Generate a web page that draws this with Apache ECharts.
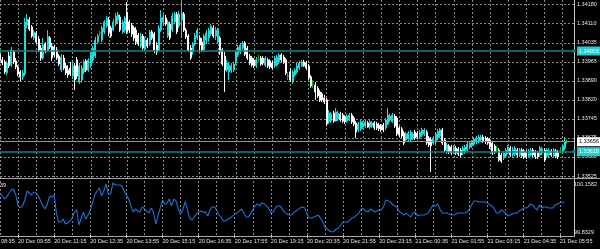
<!DOCTYPE html>
<html><head><meta charset="utf-8">
<script src="https://cdn.jsdelivr.net/npm/echarts@6/dist/echarts.min.js"></script>
<style>html,body{margin:0;padding:0;background:#000;}#c{width:600px;height:249px;}</style>
</head><body><div id="c"></div>
<script>
const openP = [
1.33991,1.33969,1.33961,1.33919,1.33984,1.33949,1.33999,1.33965,1.33942,1.33923,
1.33904,1.33915,1.34102,1.34122,1.34095,1.34053,1.34072,1.34049,1.34014,1.33976,
1.34030,1.34003,1.34053,1.34022,1.34018,1.34007,1.33984,1.33930,1.33976,1.33946,
1.33930,1.33938,1.33907,1.33946,1.33969,1.33884,1.33892,1.33923,1.33965,1.33930,
1.33946,1.33969,1.33984,1.34037,1.34072,1.34045,1.34076,1.34099,1.34122,1.34091,
1.34083,1.34106,1.34122,1.34133,1.34076,1.34083,1.34152,1.34114,1.34102,1.34091,
1.34083,1.34064,1.34022,1.34060,1.34014,1.34045,1.34030,1.34076,1.34068,1.34026,
1.34007,1.34083,1.34114,1.34129,1.34060,1.34106,1.34083,1.34114,1.34144,1.34099,
1.34122,1.34144,1.34083,1.34060,1.34014,1.33999,1.34030,1.34053,1.34053,1.34037,
1.34007,1.34045,1.34053,1.34068,1.34091,1.34060,1.34037,1.34053,1.34007,1.33984,
1.33930,1.33923,1.33927,1.33930,1.33957,1.33988,1.33999,1.34014,1.34034,1.34014,
1.33984,1.33976,1.33969,1.33946,1.33972,1.33976,1.33976,1.33949,1.33969,1.33965,
1.33957,1.33946,1.33949,1.33961,1.33988,1.33980,1.33969,1.33907,1.33923,1.33884,
1.33911,1.33923,1.33938,1.33946,1.33961,1.33957,1.33946,1.33904,1.33877,1.33873,
1.33861,1.33846,1.33839,1.33823,1.33816,1.33732,1.33735,1.33766,1.33735,1.33743,
1.33762,1.33758,1.33751,1.33735,1.33739,1.33758,1.33747,1.33728,1.33701,1.33705,
1.33712,1.33716,1.33728,1.33712,1.33716,1.33728,1.33724,1.33720,1.33716,1.33720,
1.33709,1.33724,1.33739,1.33732,1.33754,1.33747,1.33709,1.33705,1.33689,1.33663,
1.33666,1.33663,1.33670,1.33693,1.33689,1.33674,1.33682,1.33686,1.33693,1.33670,
1.33663,1.33651,1.33655,1.33670,1.33678,1.33701,1.33663,1.33617,1.33640,1.33636,
1.33617,1.33632,1.33628,1.33624,1.33613,1.33617,1.33624,1.33636,1.33640,1.33647,
1.33655,1.33659,1.33663,1.33674,1.33670,1.33666,1.33663,1.33651,1.33640,1.33628,
1.33624,1.33605,1.33594,1.33601,1.33617,1.33632,1.33605,1.33609,1.33624,1.33605,
1.33624,1.33621,1.33617,1.33601,1.33605,1.33624,1.33617,1.33613,1.33605,1.33613,
1.33624,1.33601,1.33605,1.33621,1.33601,1.33621,1.33617,1.33624,1.33617,1.33632,1.33656];
const closeP = [
1.33969,1.33957,1.33923,1.33957,1.33946,1.34007,1.33961,1.33942,1.33915,1.33904,
1.33919,1.34114,1.34125,1.34087,1.34060,1.34076,1.34037,1.34007,1.33976,1.34026,
1.34003,1.34057,1.34018,1.33976,1.33988,1.33976,1.33953,1.33980,1.33938,1.33919,
1.33911,1.33915,1.33946,1.33892,1.33907,1.33946,1.33938,1.33961,1.33930,1.33969,
1.33991,1.34014,1.34045,1.34060,1.34072,1.34091,1.34114,1.34129,1.34076,1.34060,
1.34114,1.34137,1.34144,1.34083,1.34114,1.34129,1.34076,1.34083,1.34068,1.34053,
1.34037,1.34030,1.34060,1.34014,1.34045,1.34022,1.34076,1.34053,1.34007,1.33999,
1.34091,1.34129,1.34133,1.34106,1.34114,1.34053,1.34137,1.34144,1.34076,1.34144,
1.34148,1.34083,1.34057,1.34007,1.33976,1.34030,1.34060,1.34083,1.34026,1.34007,
1.34060,1.34072,1.34083,1.34099,1.34060,1.34083,1.34083,1.33999,1.33953,1.33930,
1.33957,1.33949,1.33946,1.33953,1.33999,1.34018,1.34026,1.34034,1.33991,1.33976,
1.33957,1.33949,1.33946,1.33969,1.33972,1.33953,1.33957,1.33976,1.33946,1.33942,
1.33938,1.33976,1.33980,1.33988,1.33969,1.33961,1.33919,1.33907,1.33892,1.33923,
1.33930,1.33946,1.33957,1.33961,1.33946,1.33938,1.33900,1.33869,1.33877,1.33846,
1.33831,1.33816,1.33816,1.33808,1.33724,1.33766,1.33762,1.33735,1.33770,1.33766,
1.33739,1.33735,1.33732,1.33754,1.33758,1.33732,1.33724,1.33693,1.33724,1.33732,
1.33728,1.33732,1.33712,1.33732,1.33728,1.33709,1.33709,1.33705,1.33701,1.33701,
1.33739,1.33758,1.33754,1.33758,1.33716,1.33686,1.33682,1.33678,1.33651,1.33686,
1.33689,1.33693,1.33686,1.33670,1.33674,1.33693,1.33701,1.33701,1.33651,1.33644,
1.33640,1.33670,1.33686,1.33697,1.33701,1.33651,1.33624,1.33644,1.33617,1.33613,
1.33636,1.33613,1.33609,1.33605,1.33632,1.33636,1.33647,1.33651,1.33655,1.33666,
1.33670,1.33674,1.33674,1.33659,1.33655,1.33651,1.33636,1.33613,1.33617,1.33628,
1.33586,1.33582,1.33613,1.33624,1.33636,1.33605,1.33628,1.33632,1.33605,1.33624,
1.33601,1.33598,1.33598,1.33621,1.33624,1.33605,1.33598,1.33598,1.33632,1.33628,
1.33586,1.33624,1.33624,1.33605,1.33624,1.33601,1.33598,1.33624,1.33640,1.33659,1.33656];
const highP = [
1.34003,1.33980,1.33969,1.33965,1.33999,1.34018,1.34007,1.33976,1.33949,1.33930,
1.33930,1.34129,1.34144,1.34133,1.34102,1.34083,1.34079,1.34060,1.34026,1.34053,
1.34037,1.34083,1.34060,1.34034,1.34026,1.34018,1.33991,1.33991,1.33988,1.33957,
1.33949,1.33961,1.33969,1.33957,1.33980,1.33957,1.33949,1.33969,1.33972,1.33976,
1.33999,1.34022,1.34057,1.34068,1.34079,1.34099,1.34122,1.34137,1.34133,1.34099,
1.34125,1.34148,1.34152,1.34141,1.34122,1.34137,1.34190,1.34122,1.34110,1.34099,
1.34095,1.34072,1.34072,1.34068,1.34057,1.34053,1.34083,1.34083,1.34076,1.34037,
1.34102,1.34160,1.34144,1.34141,1.34122,1.34114,1.34148,1.34152,1.34152,1.34156,
1.34198,1.34152,1.34091,1.34068,1.34026,1.34037,1.34072,1.34091,1.34064,1.34053,
1.34068,1.34083,1.34091,1.34106,1.34102,1.34095,1.34091,1.34060,1.34014,1.33999,
1.33969,1.33961,1.33957,1.33961,1.34007,1.34026,1.34034,1.34041,1.34041,1.34022,
1.33991,1.33984,1.33976,1.33980,1.33988,1.33984,1.33984,1.33984,1.33976,1.33972,
1.33965,1.33984,1.33988,1.33995,1.33995,1.33988,1.33976,1.33923,1.33938,1.33930,
1.33938,1.33957,1.33965,1.33969,1.33969,1.33965,1.33953,1.33911,1.33892,1.33884,
1.33869,1.33854,1.33846,1.33835,1.33823,1.33777,1.33770,1.33774,1.33785,1.33774,
1.33770,1.33766,1.33758,1.33762,1.33766,1.33766,1.33754,1.33735,1.33732,1.33739,
1.33735,1.33739,1.33735,1.33739,1.33735,1.33735,1.33732,1.33728,1.33724,1.33728,
1.33747,1.33785,1.33762,1.33766,1.33762,1.33754,1.33716,1.33712,1.33697,1.33693,
1.33697,1.33701,1.33693,1.33701,1.33697,1.33701,1.33709,1.33709,1.33701,1.33678,
1.33674,1.33678,1.33693,1.33705,1.33709,1.33709,1.33670,1.33651,1.33647,1.33644,
1.33644,1.33640,1.33636,1.33632,1.33640,1.33644,1.33655,1.33659,1.33663,1.33674,
1.33678,1.33682,1.33682,1.33682,1.33678,1.33674,1.33670,1.33659,1.33647,1.33640,
1.33632,1.33613,1.33621,1.33632,1.33644,1.33640,1.33636,1.33640,1.33632,1.33632,
1.33632,1.33628,1.33624,1.33628,1.33632,1.33632,1.33624,1.33621,1.33640,1.33636,
1.33632,1.33632,1.33632,1.33628,1.33632,1.33628,1.33624,1.33636,1.33647,1.33674,1.33666];
const lowP = [
1.33961,1.33949,1.33915,1.33911,1.33938,1.33942,1.33953,1.33934,1.33907,1.33888,
1.33892,1.33907,1.34091,1.34079,1.34053,1.34045,1.34030,1.33999,1.33965,1.33969,
1.33995,1.33999,1.34011,1.33965,1.33980,1.33969,1.33946,1.33923,1.33930,1.33911,
1.33900,1.33907,1.33896,1.33854,1.33896,1.33877,1.33881,1.33915,1.33923,1.33923,
1.33938,1.33961,1.33976,1.34030,1.34060,1.34037,1.34068,1.34091,1.34060,1.34053,
1.34079,1.34099,1.34106,1.34076,1.34068,1.34072,1.34068,1.34072,1.34057,1.34041,
1.34026,1.34022,1.34014,1.34007,1.34003,1.34014,1.34022,1.34045,1.33995,1.33988,
1.33999,1.34076,1.34102,1.34099,1.34053,1.34045,1.34076,1.34106,1.34068,1.34091,
1.34053,1.34076,1.34049,1.33999,1.33969,1.33988,1.34022,1.34045,1.33999,1.33999,
1.33999,1.34030,1.34037,1.34060,1.34053,1.34045,1.34030,1.33988,1.33946,1.33846,
1.33923,1.33892,1.33919,1.33923,1.33949,1.33980,1.33991,1.34007,1.33984,1.33969,
1.33949,1.33942,1.33938,1.33938,1.33961,1.33946,1.33949,1.33942,1.33938,1.33934,
1.33930,1.33938,1.33942,1.33953,1.33961,1.33953,1.33911,1.33892,1.33884,1.33877,
1.33904,1.33915,1.33930,1.33942,1.33942,1.33930,1.33892,1.33861,1.33861,1.33816,
1.33823,1.33808,1.33808,1.33800,1.33716,1.33724,1.33728,1.33728,1.33732,1.33735,
1.33732,1.33728,1.33724,1.33728,1.33735,1.33724,1.33716,1.33670,1.33693,1.33697,
1.33705,1.33709,1.33709,1.33705,1.33709,1.33701,1.33701,1.33697,1.33693,1.33693,
1.33701,1.33720,1.33732,1.33728,1.33709,1.33678,1.33674,1.33670,1.33644,1.33655,
1.33659,1.33655,1.33663,1.33663,1.33666,1.33666,1.33674,1.33678,1.33644,1.33636,
1.33540,1.33644,1.33647,1.33663,1.33670,1.33644,1.33617,1.33609,1.33609,1.33605,
1.33609,1.33605,1.33601,1.33598,1.33605,1.33609,1.33617,1.33628,1.33632,1.33640,
1.33647,1.33651,1.33655,1.33651,1.33647,1.33644,1.33628,1.33605,1.33609,1.33617,
1.33579,1.33575,1.33586,1.33594,1.33609,1.33598,1.33598,1.33601,1.33598,1.33598,
1.33594,1.33590,1.33590,1.33594,1.33598,1.33598,1.33590,1.33590,1.33598,1.33605,
1.33579,1.33594,1.33598,1.33598,1.33598,1.33594,1.33590,1.33613,1.33609,1.33624,1.33647];
const indicator = [
100.086,100.068,100.050,100.062,100.086,100.104,100.110,100.074,100.008,99.996,
100.008,100.044,100.098,100.086,100.074,100.092,100.086,100.068,100.038,100.008,
99.990,100.020,100.068,100.062,100.074,99.965,99.911,99.911,99.929,99.899,
99.905,99.917,99.935,99.971,99.984,99.893,99.935,99.971,99.929,99.953,
99.984,100.026,100.074,100.098,100.116,100.068,100.098,100.140,100.080,100.080,
100.146,100.134,100.134,100.134,100.128,100.098,100.074,100.050,100.008,99.971,
99.990,99.977,99.971,100.002,99.990,99.977,99.965,99.996,99.971,99.899,
99.947,99.996,100.044,100.020,100.026,100.050,100.008,100.050,100.038,99.990,
99.959,99.984,100.032,99.990,99.935,99.923,99.941,99.959,99.971,99.977,
99.971,99.971,99.947,99.984,100.002,100.002,99.984,99.953,99.941,99.917,
99.917,99.929,99.935,99.947,99.959,99.965,99.977,99.990,99.965,99.941,
99.941,99.959,99.984,100.008,100.020,100.008,100.026,100.020,100.008,99.996,
99.965,99.971,99.996,100.008,100.008,99.990,99.971,99.959,99.953,99.953,
99.965,99.977,99.984,99.996,100.002,99.996,99.959,99.935,99.935,99.941,
99.947,99.953,99.935,99.911,99.881,99.869,99.857,99.851,99.857,99.869,
99.875,99.893,99.911,99.911,99.911,99.923,99.935,99.941,99.953,99.965,
99.990,99.990,99.977,99.971,99.990,99.984,99.971,99.977,99.984,99.984,
100.008,100.044,100.038,100.032,100.014,100.008,99.996,99.971,99.965,99.953,
99.965,99.953,99.941,99.965,99.971,99.947,99.953,99.953,99.953,99.959,
99.971,99.996,100.014,100.008,100.020,99.984,99.965,99.965,99.965,99.959,
99.953,99.953,99.959,99.965,99.965,99.965,99.965,99.971,99.990,100.014,
100.038,100.038,100.032,100.032,100.032,100.032,100.026,100.014,100.008,99.990,
99.965,99.965,99.984,99.977,99.965,99.947,99.953,99.959,99.965,99.965,
99.977,99.984,99.996,99.996,100.002,100.020,100.014,99.996,99.984,100.014,
99.996,100.002,100.002,99.996,99.996,99.996,100.014,100.020,100.026,100.032,100.026];

const priceTickLabels = ['1.33525','1.33600','1.33675','1.33745','1.33820','1.33890','1.33965','1.34035','1.34110','1.34180'];
const priceMin = 1.33525, priceMax = 1.34180;
const indMin = 99.8329, indMax = 100.1582;
const levelTop = 1.34003, levelLow = 1.33618, bidPrice = 1.33656;
const indName = '39';
const firstHiddenLabel = '20 Dec 08:35';
const startDay = 20, startMinutes = 9 * 60 + 15, stepMinutes = 5, slotCount = 254;

const cats = [];
for (let i = 0; i < slotCount; i++) {
  const t = startMinutes + stepMinutes * i;
  const d = startDay + Math.floor(t / 1440), m = t % 1440;
  cats.push(d + ' Dec ' + String(Math.floor(m / 60)).padStart(2, '0') + ':' + String(m % 60).padStart(2, '0'));
}
const priceStep = (priceMax - priceMin) / 9;
const UP = '#22d8d8', DOWN = '#ffffff', DOJI = '#14b814';
const FONT = 'Liberation Sans';
const GRID = {color: '#8c8c8c', type: [2, 2], width: 1};
const candleData = openP.map((o, i) => {
  const v = [o, closeP[i], lowP[i], highP[i]];
  if (o === closeP[i]) return {value: v, itemStyle: {color: DOJI, color0: DOJI, borderColor: DOJI, borderColor0: DOJI}};
  return v;
});
const boxLabel = (txt, bg, fg) => ({show: true, position: 'end', distance: 3, formatter: txt,
  backgroundColor: bg, color: fg, fontSize: 5.5, fontFamily: FONT, padding: [2, 2, 1, 2]});
const levelLine = (value, color, width, bg, fg, endSym) => ({
  type: 'line', xAxisIndex: 0, yAxisIndex: 0, data: [], silent: true, z: 5,
  markLine: {silent: true, animation: false, precision: 5, symbol: ['none', endSym], symbolSize: 3,
    itemStyle: {color: '#ffffff'},
    lineStyle: {color: color, width: width, type: 'solid'},
    label: boxLabel(value.toFixed(5), bg, fg),
    data: [{yAxis: value}]}
});

const chart = echarts.init(document.getElementById('c'), null, {renderer: 'canvas'});
chart.setOption({
  backgroundColor: '#000',
  animation: false,
  grid: [
    {left: 0, top: 4.7, width: 574, height: 171.3},
    {left: 0, top: 0, width: 574, height: 178},
    {left: 0, top: 181, width: 574, height: 54}
  ],
  xAxis: [
    {type: 'category', gridIndex: 0, data: cats, boundaryGap: false, show: false},
    {type: 'category', gridIndex: 1, data: cats, boundaryGap: false,
     axisLine: {show: false}, axisTick: {show: false}, axisLabel: {show: false},
     splitLine: {show: true, interval: (i) => i % 8 === 0, lineStyle: GRID}},
    {type: 'category', gridIndex: 2, data: cats, boundaryGap: false,
     axisLine: {show: false},
     axisTick: {show: true, interval: (i) => i % 16 === 8, length: 3, lineStyle: {color: '#bbbbbb'}},
     axisLabel: {interval: (i) => i % 16 === 8, align: 'left', margin: 3, color: '#e6e6e6', fontSize: 5.5, fontFamily: FONT},
     splitLine: {show: true, interval: (i) => i % 8 === 0, lineStyle: GRID}}
  ],
  yAxis: [
    {type: 'value', gridIndex: 0, position: 'right', min: priceMin, max: priceMax, interval: priceStep,
     axisLine: {show: false}, axisTick: {show: false},
     axisLabel: {margin: 3, color: '#e6e6e6', fontSize: 5.5, fontFamily: FONT,
       formatter: (v) => { const k = Math.round((v - priceMin) / priceStep); return priceTickLabels[k] || ''; }},
     splitLine: {show: true, lineStyle: GRID}},
    {type: 'value', gridIndex: 1, min: 0, max: 1, show: false},
    {type: 'value', gridIndex: 2, position: 'right', min: indMin, max: indMax, interval: indMax - indMin,
     axisLine: {show: false}, axisTick: {show: false}, splitLine: {show: false},
     axisLabel: {margin: 3, color: '#e6e6e6', fontSize: 5.5, fontFamily: FONT, verticalAlign: 'top',
       formatter: (v) => Math.abs(v - indMax) < 1e-6 ? indMax.toFixed(4) : ''}},
    {type: 'value', gridIndex: 2, position: 'right', min: indMin, max: indMax, interval: indMax - indMin,
     axisLine: {show: false}, axisTick: {show: false}, splitLine: {show: false},
     axisLabel: {margin: 3, color: '#e6e6e6', fontSize: 5.5, fontFamily: FONT, verticalAlign: 'bottom',
       formatter: (v) => Math.abs(v - indMin) < 1e-6 ? indMin.toFixed(4) : ''}}
  ],
  series: [
    {type: 'candlestick', xAxisIndex: 0, yAxisIndex: 0, data: candleData, clip: false,
     barWidth: 1.5, z: 2,
     itemStyle: {color: UP, color0: DOWN, borderColor: UP, borderColor0: DOWN, borderWidth: 1}},
    levelLine(levelTop, '#0b8585', 1.6, '#1fd0d0', '#ffffff', 'rect'),
    levelLine(bidPrice, '#8e8e96', 1.2, '#ffffff', '#000000', 'none'),
    levelLine(levelLow, '#0b8585', 1.6, '#1fd0d0', '#ffffff', 'rect'),
    {type: 'line', xAxisIndex: 2, yAxisIndex: 2, data: indicator, showSymbol: false, symbol: 'none',
     lineStyle: {color: '#2172d6', width: 1.1}}
  ],
  graphic: [
    {type: 'line', shape: {x1: 574.5, y1: 0, x2: 574.5, y2: 237}, style: {stroke: '#c8c8c8', lineWidth: 1}, silent: true},
    {type: 'line', shape: {x1: 0, y1: 178.5, x2: 600, y2: 178.5}, style: {stroke: '#a8a8a8', lineWidth: 1}, silent: true},
    {type: 'line', shape: {x1: 0, y1: 236.5, x2: 575, y2: 236.5}, style: {stroke: '#a8a8a8', lineWidth: 1}, silent: true},
    {type: 'text', x: 0, y: 185, style: {text: indName, fill: '#e6e6e6', font: '5.5px "Liberation Sans"', verticalAlign: 'middle'}, silent: true},
    {type: 'text', x: -18, y: 241, style: {text: firstHiddenLabel, fill: '#e6e6e6', font: '5.5px "Liberation Sans"', verticalAlign: 'middle'}, silent: true}
  ]
});
</script></body></html>
